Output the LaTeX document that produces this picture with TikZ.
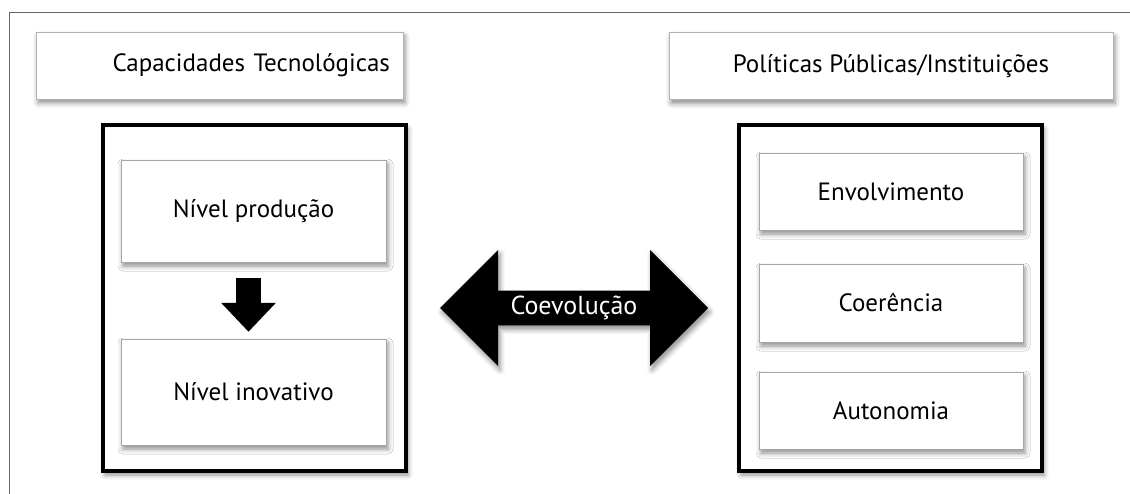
\documentclass[tikz,border=0pt]{standalone}
\usepackage{fontspec}
\setmainfont{PT Sans}
\usepackage{tikz}
\usetikzlibrary{shapes.arrows,shadows.blur,arrows.meta,positioning}

\tikzset{
  softshadow/.style={blur shadow={shadow xshift=2pt,shadow yshift=-4pt,shadow blur radius=5pt,shadow opacity=45}},
  titlebox/.style={draw=gray!60,fill=white,minimum height=67pt,softshadow,font=\fontsize{25}{30}\selectfont},
  bigframe/.style={draw=black,line width=3.5pt,fill=white,minimum width=303pt,minimum height=346pt,softshadow},
  itembox/.style={draw=gray!70,fill=white,softshadow,font=\fontsize{25}{30}\selectfont},
  setabaixo/.style={line width=25pt,-{Triangle[width=53pt,length=29pt]}},
}

\begin{document}
\begin{tikzpicture}[x=1pt,y=-1pt]
				\useasboundingbox (0,0) rectangle (1130,494);
				% moldura de fora
				\draw [gray!80!black,line width=0.8pt] (9,494) -- (9,12) -- (1130,12);
				
				% titulos
				\node [titlebox,text width=341pt,inner xsep=13pt,align=right] (captit) at (219.5,65.5) {Capacidades Tecnológicas};
				\node [titlebox,minimum width=444pt] (poltit) at (891,66) {Políticas Públicas/Instituições};
				
				% caixas grandes
				\node [bigframe] (capbox) at (254.5,298) {};
				\node [bigframe] (polbox) at (890.5,298) {};
				
				% lado esquerdo
				\node [itembox,minimum width=265pt,minimum height=102pt] (prod) at (253.5,211) {Nível produção};
				\node [itembox,minimum width=265pt,minimum height=106pt] (inov) at (253.5,392) {Nível inovativo};
				\draw [setabaixo] ([xshift=-5pt,yshift=-16pt]prod.south) -- ([xshift=-5pt,yshift=7pt]inov.north);
				
				% lado direito
				\node [itembox,minimum width=264pt,minimum height=77pt] (envol) at (891,191.5) {Envolvimento};
				\node [itembox,minimum width=264pt,minimum height=78pt] (coer) at (891,303) {Coerência};
				\node [itembox,minimum width=264pt,minimum height=77pt] (auton) at (891,410.5) {Autonomia};
				
				% seta dupla
				\node [double arrow,fill=black,text=white,inner sep=0pt,minimum height=268pt,minimum width=116pt,
				       double arrow head extend=28.5pt,double arrow tip angle=90,softshadow,
				       font=\fontsize{26}{30}\selectfont] (coevo) at (574,308) {Coevolução};
			\end{tikzpicture}
\end{document}
